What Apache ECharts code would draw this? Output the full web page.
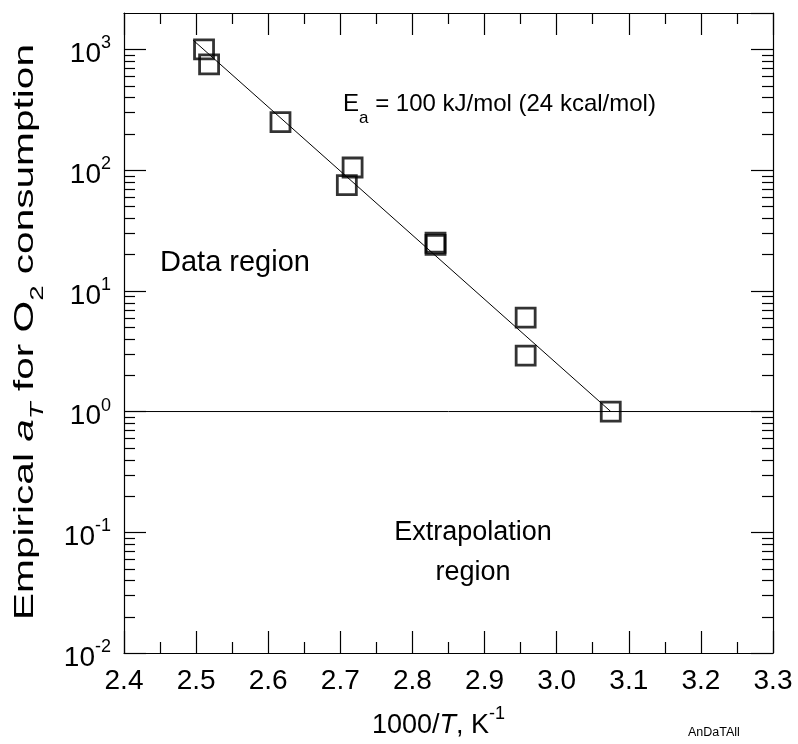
<!DOCTYPE html>
<html>
<head>
<meta charset="utf-8">
<script src="https://cdn.jsdelivr.net/npm/echarts@6/dist/echarts.min.js"></script>
<style>
  html, body { margin: 0; padding: 0; background: #fff; }
  #chart { width: 798px; height: 744px; }
</style>
</head>
<body>
<div id="chart"></div>
<script>
// Measured shift factors a_T vs reciprocal temperature
const invT = [2.511, 2.518, 2.617, 2.717, 2.709, 2.832, 2.832, 2.957, 2.957, 3.075];
const aT   = [1000, 750, 250, 105, 75, 25, 24, 6, 2.9, 1];

// Arrhenius fit line (Ea = 100 kJ/mol) and the a_T = 1 reference line
const fitInvT = [2.496, 3.075];
const fitAT   = [1190, 1];
const refInvT = [2.4, 3.3];
const refAT   = [1, 1];

// Axis ranges
const xMin = 2.4, xMax = 3.3, xStep = 0.1;
const yMin = 0.01, yMax = 2000;

// Minor log ticks (2..9 within each decade)
const mantissas = [2, 3, 4, 5, 6, 7, 8, 9];
const decades = [0.01, 0.1, 1, 10, 100];
const yMinor = [];
decades.forEach(d => mantissas.forEach(m => yMinor.push(+(m * d).toPrecision(3))));

const FONT = '"Liberation Sans", Arial, Helvetica, sans-serif';
const chart = echarts.init(document.getElementById('chart'), null, { renderer: 'canvas' });

const tickStyle = { color: '#000', width: 1.2 };
function xAxisDef(pos, showLabel) {
  return {
    type: 'value', position: pos, min: xMin, max: xMax, interval: xStep,
    axisLine: { show: true, onZero: false, lineStyle: { color: '#000', width: 1.2 } },
    axisTick: { show: true, inside: true, length: 22, lineStyle: tickStyle },
    minorTick: { show: true, splitNumber: 2, length: 11, lineStyle: tickStyle },
    splitLine: { show: false },
    axisLabel: {
      show: showLabel, color: '#000', fontFamily: FONT, fontSize: 28, margin: 14,
      formatter: v => v.toFixed(1)
    }
  };
}
function yAxisDef(pos, showLabel) {
  return {
    type: 'log', logBase: 10, position: pos, min: yMin, max: yMax,
    axisLine: { show: true, onZero: false, lineStyle: { color: '#000', width: 1.2 } },
    axisTick: { show: true, inside: true, length: 22, lineStyle: tickStyle },
    splitLine: { show: false },
    axisLabel: {
      show: showLabel, showMaxLabel: false, margin: 13, padding: [4, 0, 0, 0],
      formatter: v => '{b|10}{p|' + Math.round(Math.log10(v)) + '}',
      rich: {
        b: { fontFamily: FONT, fontSize: 28, color: '#000', lineHeight: 34, verticalAlign: 'bottom' },
        p: { fontFamily: FONT, fontSize: 18, color: '#000', lineHeight: 16, verticalAlign: 'top' }
      }
    }
  };
}

chart.setOption({
  animation: false,
  backgroundColor: '#fff',
  grid: { left: 124, right: 25, top: 13, bottom: 91, containLabel: false },
  xAxis: [xAxisDef('bottom', true), xAxisDef('top', false)],
  yAxis: [yAxisDef('left', true), yAxisDef('right', false)],
  series: [
    {
      type: 'custom', xAxisIndex: 0, yAxisIndex: 0, silent: true, clip: false,
      data: yMinor.map(v => [xMin, v]),
      renderItem: (params, api) => {
        const cs = params.coordSys;
        const y = Math.round(api.coord([xMin, api.value(1)])[1]) + 0.5;
        const st = { stroke: '#000', lineWidth: 1.2 };
        return {
          type: 'group',
          children: [
            { type: 'line', shape: { x1: cs.x, y1: y, x2: cs.x + 11, y2: y }, style: st },
            { type: 'line', shape: { x1: cs.x + cs.width - 11, y1: y, x2: cs.x + cs.width, y2: y }, style: st }
          ]
        };
      }
    },
    {
      type: 'line', data: refInvT.map((x, i) => [x, refAT[i]]),
      symbol: 'none', lineStyle: { color: '#000', width: 1 }, silent: true
    },
    {
      type: 'line', data: fitInvT.map((x, i) => [x, fitAT[i]]),
      symbol: 'none', lineStyle: { color: '#000', width: 1 }, silent: true
    },
    {
      type: 'scatter', data: invT.map((x, i) => [x, aT[i]]),
      symbol: 'rect', symbolSize: 19,
      itemStyle: { color: 'rgba(0,0,0,0)', borderColor: '#000', borderWidth: 2.8 }
    }
  ],
  graphic: [
    {
      // activation energy annotation, E with subscript a
      type: 'text', left: 343, top: 92, silent: true,
      style: {
        text: '{n|E}{s|a}{n| = 100 kJ/mol (24 kcal/mol)}',
        rich: {
          n: { fontFamily: FONT, fontSize: 24, fill: '#000', lineHeight: 25, verticalAlign: 'top' },
          s: { fontFamily: FONT, fontSize: 17, fill: '#000', lineHeight: 35, verticalAlign: 'bottom' }
        }
      }
    },
    {
      type: 'text', left: 160, top: 248, silent: true,
      style: { text: 'Data region', fontFamily: FONT, fontSize: 29, fill: '#000' }
    },
    {
      type: 'text', x: 473, y: 513, silent: true,
      style: {
        text: 'Extrapolation\nregion', fontFamily: FONT, fontSize: 27, fill: '#000',
        align: 'center', verticalAlign: 'top', lineHeight: 40
      }
    },
    {
      type: 'text', left: 372, top: 705, silent: true,
      style: {
        text: '{n|1000/}{i|T}{n|, K}{p|-1}',
        rich: {
          n: { fontFamily: FONT, fontSize: 27, fill: '#000', lineHeight: 34, verticalAlign: 'bottom' },
          i: { fontFamily: FONT, fontSize: 27, fontStyle: 'italic', fill: '#000', lineHeight: 34, verticalAlign: 'bottom' },
          p: { fontFamily: FONT, fontSize: 18, fill: '#000', lineHeight: 16, verticalAlign: 'top' }
        }
      }
    },
    {
      // rotated y-axis title
      type: 'text', x: 29, y: 332, rotation: Math.PI / 2, scaleX: 1.45, silent: true,
      style: {
        text: '{n|Empirical }{i|a}{si|T}{n| for O}{s|2}{n| consumption}',
        align: 'center', verticalAlign: 'middle',
        rich: {
          n: { fontFamily: FONT, fontSize: 28, fill: '#000', lineHeight: 30, verticalAlign: 'top' },
          i: { fontFamily: FONT, fontSize: 28, fontStyle: 'italic', fill: '#000', lineHeight: 30, verticalAlign: 'top' },
          si: { fontFamily: FONT, fontSize: 19, fontStyle: 'italic', fill: '#000', lineHeight: 36, verticalAlign: 'bottom' },
          s: { fontFamily: FONT, fontSize: 19, fill: '#000', lineHeight: 36, verticalAlign: 'bottom' }
        }
      }
    },
    {
      type: 'text', left: 688, top: 726, silent: true,
      style: { text: 'AnDaTAll', fontFamily: FONT, fontSize: 12.5, fill: '#000' }
    }
  ]
});
</script>
</body>
</html>
